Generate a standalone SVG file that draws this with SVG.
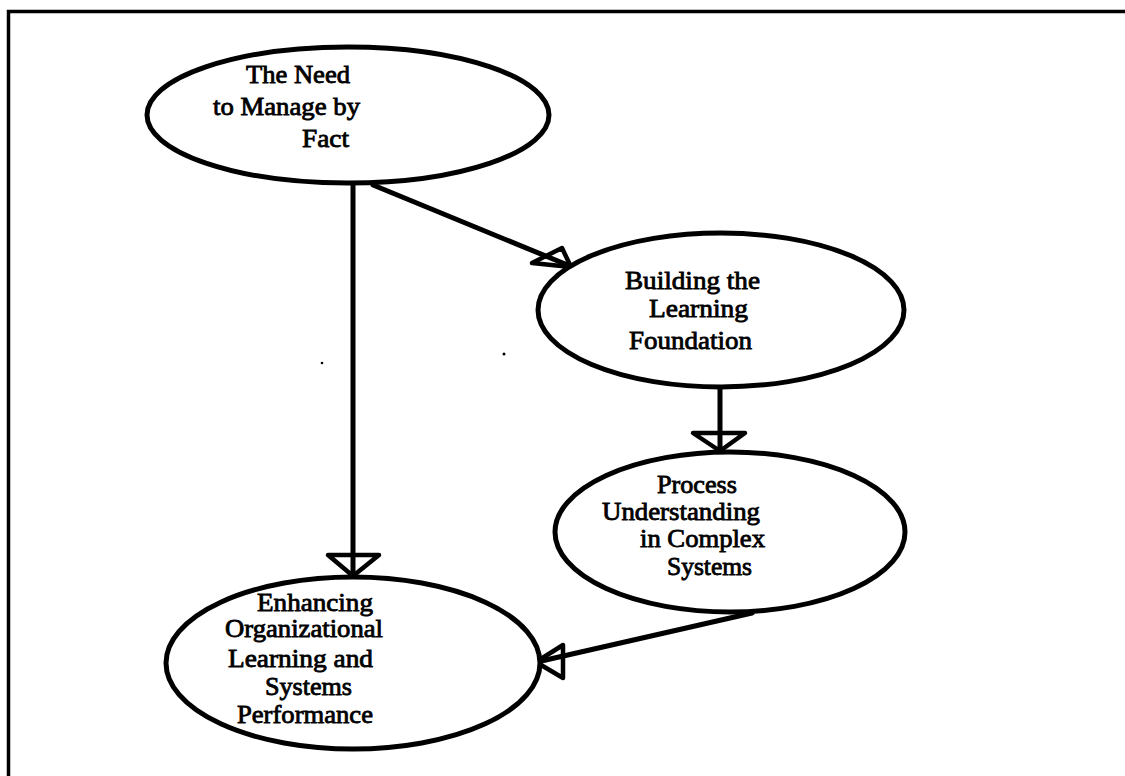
<svg xmlns="http://www.w3.org/2000/svg" width="1125" height="776" viewBox="0 0 1125 776">
  <style>
    .node { fill: #ffffff; stroke: #000000; stroke-width: 5; }
    .label { font-family: "Liberation Serif", "Times New Roman", serif; font-size: 25px; fill: #000000; stroke: #000000; stroke-width: 0.8; }
    .edge { fill: none; stroke: #000000; stroke-width: 5; stroke-linecap: round; }
    .head { fill: none; stroke: #000000; stroke-width: 4.5; stroke-linejoin: round; }
    .frame { fill: none; stroke: #000000; stroke-width: 3.5; }
  </style>
  <rect width="1125" height="776" fill="#ffffff"/>

  <!-- page border (top and left edges) -->
  <path class="frame" d="M8.5,776 V11.5 H1125"/>

  <!-- specks -->
  <circle cx="322" cy="363" r="1.3" fill="#000"/>
  <circle cx="504" cy="354" r="1.5" fill="#000"/>

  <g id="connectors">
    <!-- Manage by Fact -> Enhancing -->
    <line class="edge" x1="353" y1="185" x2="353" y2="575"/>
    <polygon class="head" points="328,555 379,555 353,576"/>
    <!-- Manage by Fact -> Building -->
    <line class="edge" x1="373" y1="185" x2="570" y2="266"/>
    <polygon class="head" points="532,263 562,248 571,267"/>
    <!-- Building -> Process -->
    <line class="edge" x1="720" y1="387" x2="720" y2="450"/>
    <polygon class="head" points="693,433 745,433 720,451"/>
    <!-- Process -> Enhancing -->
    <line class="edge" x1="752" y1="613" x2="537" y2="662"/>
    <polygon class="head" points="563,645 563,678 536,662"/>
  </g>

  <g id="node-manage-by-fact">
    <ellipse class="node" cx="348" cy="115" rx="201" ry="68"/>
    <text class="label" x="246" y="83" textLength="104" lengthAdjust="spacingAndGlyphs">The Need</text>
    <text class="label" x="213" y="115" textLength="147" lengthAdjust="spacingAndGlyphs">to Manage by</text>
    <text class="label" x="302" y="147" textLength="47" lengthAdjust="spacingAndGlyphs">Fact</text>
  </g>

  <g id="node-building">
    <ellipse class="node" cx="721" cy="310" rx="183" ry="77"/>
    <text class="label" x="625" y="289" textLength="135" lengthAdjust="spacingAndGlyphs">Building the</text>
    <text class="label" x="649" y="317" textLength="99" lengthAdjust="spacingAndGlyphs">Learning</text>
    <text class="label" x="629" y="349" textLength="123" lengthAdjust="spacingAndGlyphs">Foundation</text>
  </g>

  <g id="node-process">
    <ellipse class="node" cx="730" cy="532" rx="175" ry="80"/>
    <text class="label" x="657" y="493" textLength="80" lengthAdjust="spacingAndGlyphs">Process</text>
    <text class="label" x="602" y="520" textLength="158" lengthAdjust="spacingAndGlyphs">Understanding</text>
    <text class="label" x="640" y="547" textLength="125" lengthAdjust="spacingAndGlyphs">in Complex</text>
    <text class="label" x="667" y="575" textLength="85" lengthAdjust="spacingAndGlyphs">Systems</text>
  </g>

  <g id="node-enhancing">
    <ellipse class="node" cx="353" cy="663" rx="187" ry="86"/>
    <text class="label" x="257" y="611" textLength="116" lengthAdjust="spacingAndGlyphs">Enhancing</text>
    <text class="label" x="225" y="637" textLength="158" lengthAdjust="spacingAndGlyphs">Organizational</text>
    <text class="label" x="228" y="667" textLength="145" lengthAdjust="spacingAndGlyphs">Learning and</text>
    <text class="label" x="265" y="695" textLength="87" lengthAdjust="spacingAndGlyphs">Systems</text>
    <text class="label" x="237" y="723" textLength="136" lengthAdjust="spacingAndGlyphs">Performance</text>
  </g>
</svg>
